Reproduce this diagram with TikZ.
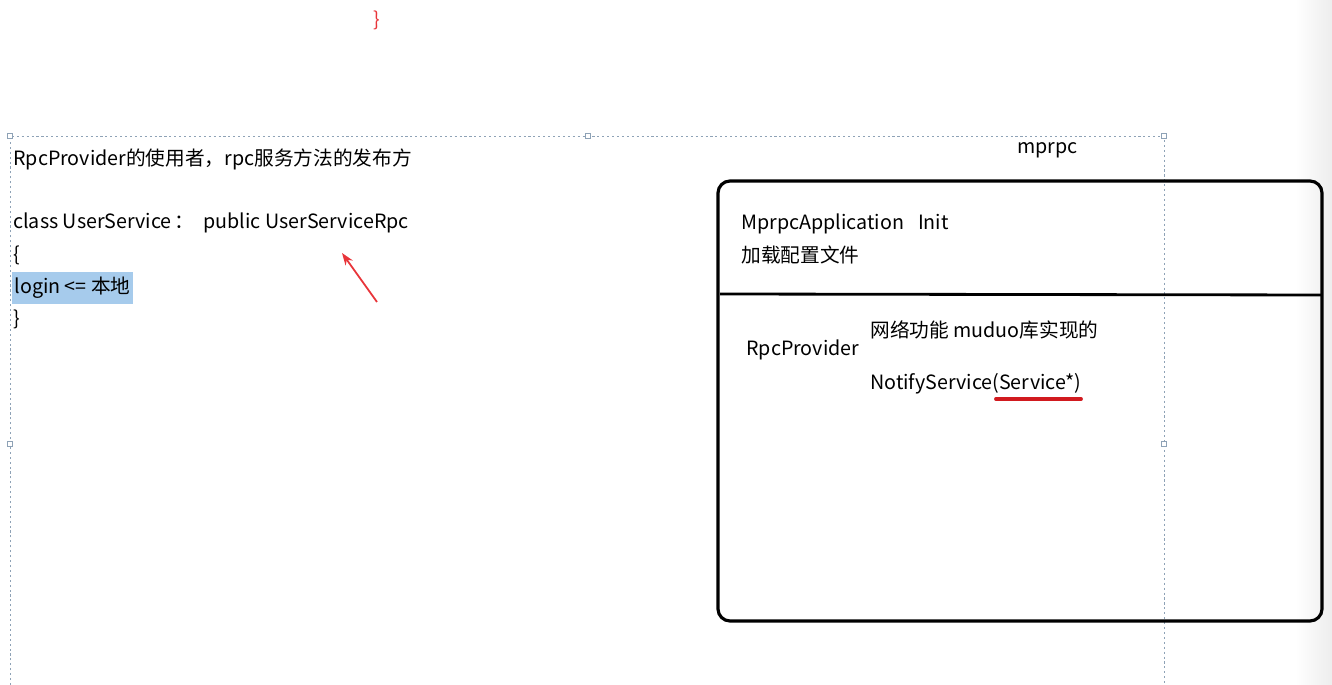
\documentclass[tikz,border=0pt]{standalone}
\usepackage{fontspec}
\setmainfont{Noto Sans CJK SC}
\usetikzlibrary{arrows.meta, positioning, calc}
\definecolor{notered}{HTML}{E8353A}
\definecolor{lineunder}{HTML}{D11A1F}
\definecolor{selectblue}{HTML}{A6CBEC}
\definecolor{framegray}{HTML}{8EA2B6}

\begin{document}
\begin{tikzpicture}[x=0.02cm, y=-0.02cm,
                    notetext/.style={anchor=base west, inner sep=0pt, font=\fontsize{11.2}{13}\selectfont},
                    handle/.style={rectangle, draw=framegray, fill=white, line width=0.4pt, minimum size=3pt, inner sep=0pt},
                    textframe/.style={draw=framegray, line width=0.5pt, dash pattern=on 1.2pt off 1.6pt},
                    mprpcbox/.style={draw=black, line width=1.8pt, rounded corners=0.24cm}]

    \useasboundingbox (0,0) rectangle (1332,685);
    \shade[left color=white, right color=black!7] (1295,0) rectangle (1332,685);

    % text box frame
    \draw[textframe] (10,690) -- (10,136) -- (1164,136) -- (1164,690);
    \node[handle] (h1) at (10,136) {};
    \node[handle] (h2) at (588,136) {};
    \node[handle] (h3) at (1164,136) {};
    \node[handle] (h4) at (10,444) {};
    \node[handle] (h5) at (1164,444) {};

    % left notes
    \node[notetext, text=notered] (topbrace) at (373,27) {\}};
    \node[notetext] (user) at (13,166) {RpcProvider的使用者，rpc服务方法的发布方};
    \node[notetext] (classline) at (13,229) {class UserService\,：\ \ public UserServiceRpc};
    \node[notetext] (open) at (13,262) {\{};
    \node[notetext, fill=selectblue, inner xsep=1.5pt, inner ysep=3pt] (login) at (11.5,294) {login <= 本地\hspace{4pt}};
    \node[notetext] (close) at (13,326) {\}};

    % red arrow
    \coordinate (arrowtail) at (377,302);
    \coordinate (arrowhead) at (342,253);
    \draw[-{Stealth[length=7pt, width=5pt]}, notered, line width=1pt] (arrowtail) -- (arrowhead);

    % mprpc framework
    \node[notetext] (mprpc) at (1017,154) {mprpc};
    \draw[mprpcbox] (718,181) rectangle (1322,621);
    \draw[line width=1.6pt] (720,294) -- (1322,295);

    \node[notetext] (app) at (741,230) {MprpcApplication\hspace{0.28cm}Init};
    \node[notetext] (config) at (741,263) {加载配置文件};
    \node[notetext] (provider) at (746,356) {RpcProvider};
    \node[notetext] (network) at (870,338) {网络功能 muduo库实现的};
    \node[notetext] (notify) at (870,390) {NotifyService(Service*)};

    \coordinate (underleft) at (996,399);
    \coordinate (underright) at (1081,399);
    \draw[lineunder, line width=2.2pt, line cap=round] (underleft) -- (underright);

\end{tikzpicture}
\end{document}
